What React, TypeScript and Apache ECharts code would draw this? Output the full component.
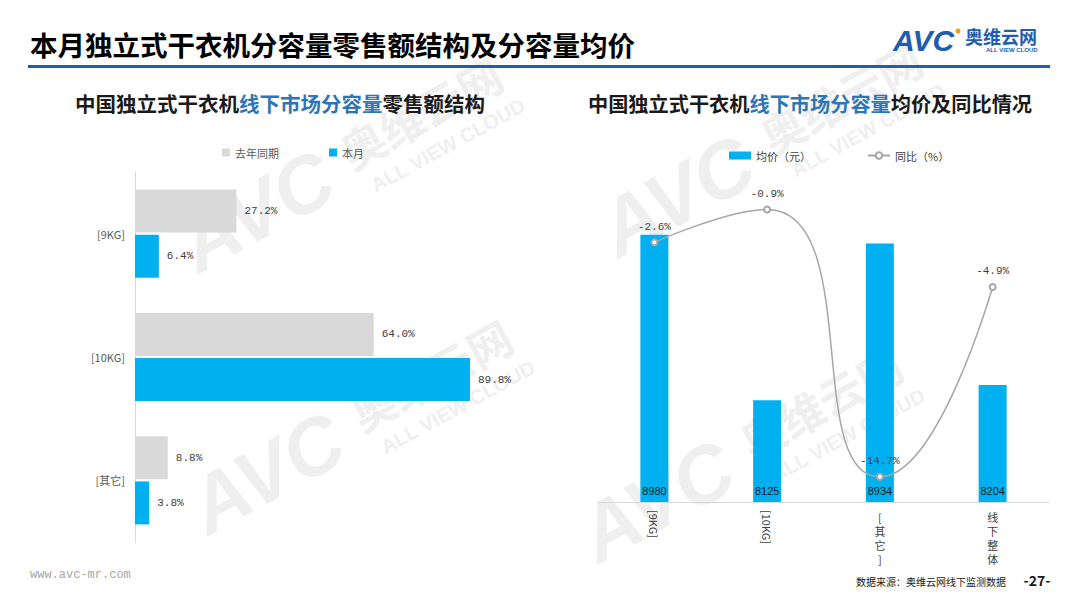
import React, { useEffect, useRef } from 'react';
import * as echarts from 'echarts';

const leftCategories = ['[9KG]', '[10KG]', '[其它]'];
const lastYearShare = [27.2, 64.0, 8.8];
const thisMonthShare = [6.4, 89.8, 3.8];

const rightCategories = ['[9KG]', '[10KG]', '[其它]', '线下整体'];
const avgPrice = [8980, 8125, 8934, 8204];
const yoyChange = [-2.6, -0.9, -14.7, -4.9];

const CJK = '"Noto Sans CJK SC", "Noto Sans", sans-serif';
const MONO = '"Liberation Mono", "DejaVu Sans Mono", monospace';
const BLUE = '#00B0F0';
const GRAY = '#D9D9D9';
const DARKBLUE = '#1F5EAC';
const SUBBLUE = '#2E75B6';

const watermark = (x: number, y: number) => ({
  type: 'group',
  x,
  y,
  rotation: 0.5,
  z: -10,
  silent: true,
  children: [
    { type: 'text', x: 0, y: 0, style: { text: 'AVC', font: 'italic bold 80px "Liberation Sans", sans-serif', fill: '#EFEFEF', verticalAlign: 'middle' } },
    { type: 'text', x: 185, y: -8, style: { text: '奥维云网', font: `bold 44px ${CJK}`, fill: '#EFEFEF', verticalAlign: 'middle' } },
    { type: 'text', x: 195, y: 34, style: { text: 'ALL VIEW CLOUD', font: 'bold 20px "Liberation Sans", sans-serif', fill: '#EFEFEF', verticalAlign: 'middle' } },
  ],
});

export default function App() {
  const ref = useRef<HTMLDivElement>(null);
  useEffect(() => {
    if (!ref.current) return;
    const chart = echarts.init(ref.current, undefined, { renderer: 'svg' });
    const pctLabel = (p: any) => Number(p.value).toFixed(1) + '%';
    chart.setOption({
      animation: false,
      backgroundColor: '#FFFFFF',
      textStyle: { fontFamily: CJK },
      grid: [
        { left: 135, top: 172, width: 373, height: 370 },
        { left: 598, top: 192, width: 451, height: 310 },
      ],
      legend: [
        {
          data: [
            { name: '去年同期', icon: 'rect' },
            { name: '本月', icon: 'rect' },
          ],
          left: 217,
          top: 142,
          itemWidth: 8,
          itemHeight: 8,
          itemGap: 50,
          textStyle: { color: '#595959', fontSize: 11, fontFamily: CJK },
        },
        {
          data: [{ name: '均价（元）', icon: 'rect' }, { name: '同比（%）' }],
          left: 724,
          top: 145,
          itemWidth: 22,
          itemHeight: 8,
          itemGap: 56,
          textStyle: { color: '#404040', fontSize: 11, fontFamily: CJK },
        },
      ],
      xAxis: [
        { gridIndex: 0, type: 'value', min: 0, max: 100, show: false },
        {
          gridIndex: 1,
          type: 'category',
          position: 'bottom',
          data: rightCategories,
          axisLine: { onZero: false, lineStyle: { color: GRAY } },
          axisTick: { show: false },
          splitLine: { show: false },
          axisLabel: {
            rotate: -90,
            margin: 8,
            color: '#404040',
            fontSize: 11,
            fontFamily: CJK,
            formatter: (v: string) => (/KG/.test(v) ? v : ''),
          },
        },
        {
          gridIndex: 1,
          type: 'category',
          position: 'bottom',
          data: rightCategories,
          axisLine: { show: false, onZero: false },
          axisTick: { show: false },
          splitLine: { show: false },
          axisLabel: {
            margin: 8,
            color: '#404040',
            fontSize: 11,
            lineHeight: 14,
            fontFamily: CJK,
            formatter: (v: string) => (/KG/.test(v) ? '' : v.split('').join('\n')),
          },
        },
      ],
      yAxis: [
        {
          gridIndex: 0,
          type: 'category',
          data: leftCategories,
          inverse: true,
          axisLine: { lineStyle: { color: GRAY } },
          axisTick: { show: false },
          axisLabel: { color: '#595959', fontSize: 11, margin: 10, fontFamily: CJK },
        },
        { gridIndex: 1, type: 'value', min: 7600, max: 9200, show: false },
        { gridIndex: 1, type: 'value', min: -16, max: 0, show: false },
      ],
      series: [
        {
          name: '去年同期',
          type: 'bar',
          xAxisIndex: 0,
          yAxisIndex: 0,
          data: lastYearShare,
          barWidth: 43,
          barGap: '5%',
          itemStyle: { color: GRAY },
          label: { show: true, position: 'right', distance: 8, formatter: pctLabel, color: '#404040', fontSize: 11, fontFamily: MONO },
        },
        {
          name: '本月',
          type: 'bar',
          xAxisIndex: 0,
          yAxisIndex: 0,
          data: thisMonthShare,
          barWidth: 43,
          barGap: '5%',
          itemStyle: { color: BLUE },
          label: { show: true, position: 'right', distance: 8, formatter: pctLabel, color: '#404040', fontSize: 11, fontFamily: MONO },
        },
        {
          name: '均价（元）',
          type: 'bar',
          xAxisIndex: 1,
          yAxisIndex: 1,
          data: avgPrice,
          barWidth: 28,
          itemStyle: { color: BLUE },
          label: { show: true, position: 'insideBottom', distance: 6, color: '#1A1A1A', fontSize: 11, fontFamily: '"Liberation Sans", sans-serif' },
        },
        {
          name: '同比（%）',
          type: 'line',
          xAxisIndex: 1,
          yAxisIndex: 2,
          data: yoyChange,
          smooth: 0.6,
          symbol: 'emptyCircle',
          symbolSize: 6,
          z: 5,
          lineStyle: { color: '#A6A6A6', width: 1.5 },
          itemStyle: { color: '#A6A6A6', borderColor: '#A6A6A6' },
          label: { show: true, position: 'top', distance: 6, formatter: pctLabel, color: '#404040', fontSize: 11, fontFamily: MONO },
        },
      ],
      graphic: [
        watermark(185, 250),
        watermark(195, 512),
        watermark(605, 235),
        watermark(585, 540),
        {
          type: 'text',
          x: 30,
          y: 44,
          style: { text: '本月独立式干衣机分容量零售额结构及分容量均价', font: `bold 27.5px ${CJK}`, fill: '#000000', verticalAlign: 'middle' },
        },
        { type: 'rect', shape: { x: 28, y: 65, width: 1022, height: 3 }, style: { fill: DARKBLUE } },
        {
          type: 'text',
          x: 893,
          y: 40,
          style: { text: 'AVC', font: 'italic bold 30px "Liberation Sans", sans-serif', fill: DARKBLUE, verticalAlign: 'middle' },
        },
        { type: 'circle', shape: { cx: 958, cy: 31, r: 2.5 }, style: { fill: '#F39A1E' } },
        {
          type: 'text',
          x: 965,
          y: 36,
          style: { text: '奥维云网', font: `bold 18px ${CJK}`, fill: DARKBLUE, verticalAlign: 'middle' },
        },
        {
          type: 'text',
          x: 986,
          y: 50,
          style: { text: 'ALL VIEW CLOUD', font: 'bold 6px "Liberation Sans", sans-serif', fill: DARKBLUE, verticalAlign: 'middle' },
        },
        {
          type: 'text',
          x: 280,
          y: 103,
          style: {
            text: '{a|中国独立式干衣机}{b|线下市场分容量}{a|零售额结构}',
            align: 'center',
            verticalAlign: 'middle',
            rich: {
              a: { font: `bold 20.5px ${CJK}`, fill: '#1A1A1A', color: '#1A1A1A' },
              b: { font: `bold 20.5px ${CJK}`, fill: SUBBLUE, color: SUBBLUE },
            },
          },
        },
        {
          type: 'text',
          x: 810,
          y: 103,
          style: {
            text: '{a|中国独立式干衣机}{b|线下市场分容量}{a|均价及同比情况}',
            align: 'center',
            verticalAlign: 'middle',
            rich: {
              a: { font: `bold 20.2px ${CJK}`, fill: '#1A1A1A', color: '#1A1A1A' },
              b: { font: `bold 20.2px ${CJK}`, fill: SUBBLUE, color: SUBBLUE },
            },
          },
        },
        {
          type: 'text',
          x: 30,
          y: 575,
          style: { text: 'www.avc-mr.com', font: `12px ${MONO}`, fill: '#A6A6A6', verticalAlign: 'middle' },
        },
        {
          type: 'text',
          x: 1006,
          y: 581,
          style: { text: '数据来源：奥维云网线下监测数据', font: `10px ${CJK}`, fill: '#1A1A1A', align: 'right', verticalAlign: 'middle' },
        },
        {
          type: 'text',
          x: 1037,
          y: 580,
          style: { text: '-27-', font: `bold 14px ${CJK}`, fill: '#1A1A1A', align: 'center', verticalAlign: 'middle' },
        },
      ],
    });
    return () => chart.dispose();
  }, []);
  return <div ref={ref} style={{ width: 1080, height: 608, position: 'absolute', left: 0, top: 0 }} />;
}
